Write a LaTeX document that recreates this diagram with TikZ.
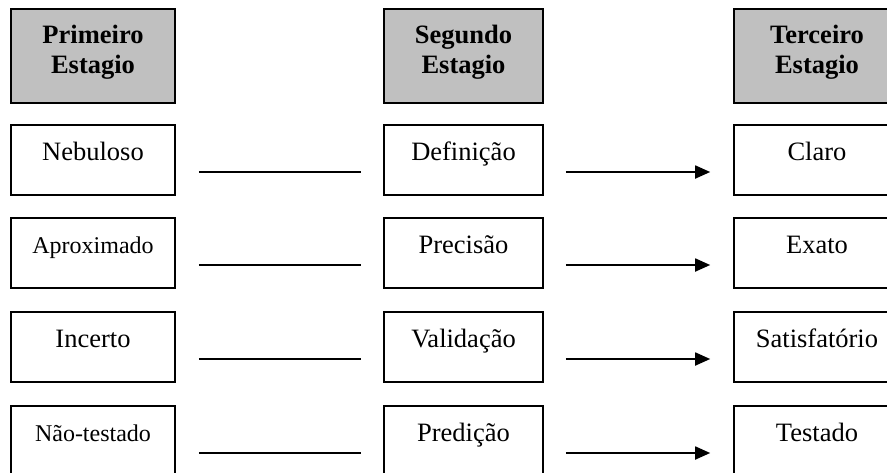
\documentclass[tikz,border=0pt]{standalone}
\usepackage{fontspec}
\setmainfont{Liberation Serif}
\usetikzlibrary{arrows.meta}
\definecolor{hgray}{HTML}{C0C0C0}
\begin{document}
\begin{tikzpicture}[x=1pt,y=-1pt,
  box/.style={draw=black, line width=1.6pt, rectangle, inner sep=0pt,
    text height=35pt, text depth=35pt, anchor=base,
    font=\fontsize{26.5}{31}\selectfont},
  small/.style={font=\fontsize{24}{29}\selectfont},
  head/.style={draw=black, line width=1.6pt, fill=hgray, rectangle,
    minimum height=94pt, inner sep=0pt, anchor=north},
  htext/.style={anchor=base, inner sep=0pt, font=\bfseries\fontsize{26.5}{31}\selectfont},
  colA/.style={minimum width=164pt},
  colB/.style={minimum width=159pt},
  colC/.style={minimum width=166pt},
  link/.style={line width=1.8pt, shorten <=23pt, shorten >=22pt},
  arr/.style={line width=1.8pt, shorten <=22pt, shorten >=23pt,
    -{Triangle[length=15pt,width=13pt]}}]
\useasboundingbox (0,0) rectangle (887,472);
\clip (0,0) rectangle (887,472);

% headers
\node[head, colA] (h1) at (93,8) {};
\node[htext] (h1a) at (93,43) {Primeiro};
\node[htext] (h1b) at (93,73) {Estagio};
\node[head, colB] (h2) at (463.5,8) {};
\node[htext] (h2a) at (463.5,43) {Segundo};
\node[htext] (h2b) at (463.5,73) {Estagio};
\node[head, colC] (h3) at (817,8) {};
\node[htext] (h3a) at (817,43) {Terceiro};
\node[htext] (h3b) at (817,73) {Estagio};

% row 1
\node[box, colA] (a1) at (93,160) {Nebuloso};
\node[box, colB] (b1) at (463.5,160) {Definição};
\node[box, colC] (c1) at (817,160) {Claro};
% row 2
\node[box, colA, small] (a2) at (93,253) {Aproximado};
\node[box, colB] (b2) at (463.5,253) {Precisão};
\node[box, colC] (c2) at (817,253) {Exato};
% row 3
\node[box, colA] (a3) at (93,347) {Incerto};
\node[box, colB] (b3) at (463.5,347) {Validação};
\node[box, colC] (c3) at (817,347) {Satisfatório};
% row 4
\node[box, colA, small] (a4) at (93,441) {Não-testado};
\node[box, colB] (b4) at (463.5,441) {Predição};
\node[box, colC] (c4) at (817,441) {Testado};

% connectors
\foreach \r in {1,2,3,4}{
  \draw[link] ([yshift=-12pt]a\r.east) -- ([yshift=-12pt]b\r.west);
  \draw[arr] ([yshift=-12pt]b\r.east) -- ([yshift=-12pt]c\r.west);
}
\end{tikzpicture}
\end{document}
